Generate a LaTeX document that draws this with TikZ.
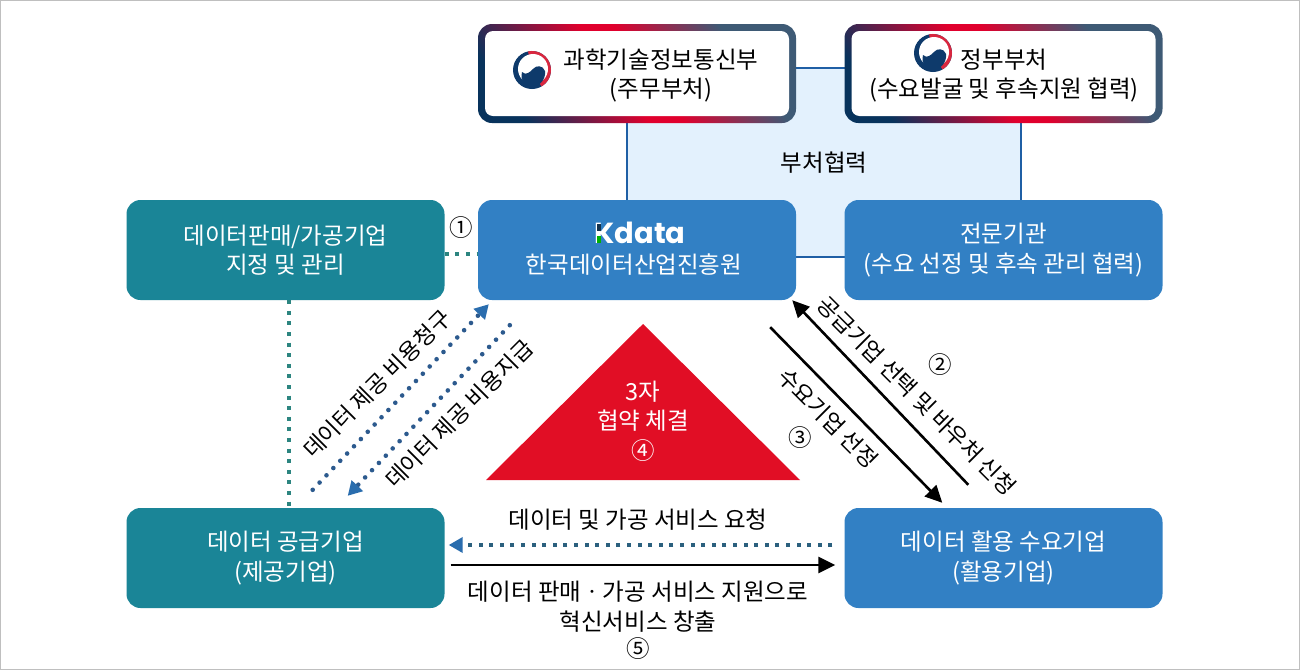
\documentclass[tikz,border=0pt]{standalone}
\usepackage{fontspec}
\setmainfont{Noto Sans CJK KR}
\newfontfamily\logofont{Poppins}
\usetikzlibrary{arrows.meta,calc}
\definecolor{tealbox}{HTML}{1A8597}
\definecolor{bluebox}{HTML}{3280C4}
\definecolor{panelfill}{HTML}{E3F1FD}
\definecolor{panelline}{HTML}{1F5FA5}
\definecolor{brdnavy}{HTML}{08335C}
\definecolor{brdred}{HTML}{E0002D}
\definecolor{brdslate}{HTML}{3E5A75}
\definecolor{tri}{HTML}{E10E25}
\definecolor{dotnavy}{HTML}{2C5A8E}
\definecolor{dotteal}{HTML}{2C8580}
\definecolor{dothoriz}{HTML}{2B607E}
\definecolor{tipblue}{HTML}{2A6DAE}
\definecolor{tgred}{HTML}{D9273F}
\definecolor{tgblue}{HTML}{0E3A6B}
\pgfdeclarehorizontalshading{brdshade}{100bp}{color(0bp)=(brdnavy); color(24bp)=(brdnavy); color(46bp)=(brdred); color(52bp)=(brdred); color(71bp)=(brdslate); color(100bp)=(brdslate)}
\newcommand{\txt}{\fontsize{23.5}{29.5}\selectfont}
\newcommand{\dn}[1]{\raisebox{-2.5pt}{#1}}
\newcommand{\taegeuk}[2]{%
  \begin{scope}[shift={(#1,#2)}]
    \fill[tgblue] (0,0) circle (19);
    \fill[tgred] (0,0) -- (-4,-18.6) arc (-102:60:19) -- cycle;
    \fill[white] (1,-1) circle (15);
    \fill[tgblue] (-10,2) .. controls (-6,6) and (-2,2) .. (1,-1) .. controls (4,-5) and (11,-5) .. (13,1) .. controls (14,10) and (7,17) .. (-1,17) .. controls (-7,17) and (-12,10) .. cycle;
  \end{scope}}
\tikzset{
  x=1pt,y=-1pt,
  box/.style={rounded corners=14pt,minimum width=318pt,minimum height=100pt,inner sep=0pt,text=white,align=center,font=\txt},
  tealnode/.style={box,fill=tealbox},
  bluenode/.style={box,fill=bluebox},
  gradouter/.style={rounded corners=14pt,minimum width=318pt,minimum height=99pt,inner sep=0pt,shading=brdshade,shading angle=36},
  gradinner/.style={rounded corners=8pt,minimum width=304pt,minimum height=85pt,inner sep=0pt,fill=white,align=center,font=\txt},
  lab/.style={font=\txt,align=center,inner sep=0pt,text=black},
  tilted/.style={lab,font=\fontsize{22.6}{28}\selectfont},
  num/.style={lab},
  dotdiag/.style={draw=dotnavy,line width=4.6pt,line cap=round,dash pattern=on 0pt off 10pt},
  dotsq/.style={line width=4pt,dash pattern=on 4pt off 6.6pt},
  solidarrow/.style={draw=black,line width=2.6pt,-{Triangle[length=17pt,width=16pt]}},
  bluetip/.style={-{Triangle[length=14pt,width=15pt,color=tipblue]}},
}
\begin{document}
\begin{tikzpicture}
\useasboundingbox (0,0) rectangle (1300,670);
\fill[white] (0,0) rectangle (1300,670);
\draw[color=black!25,line width=1pt] (0.5,0.5) rectangle (1299.5,669.5);

\node[draw=panelline,line width=1.6pt,fill=panelfill,minimum width=394pt,minimum height=189pt,inner sep=0pt,font=\txt] (panel) at (824,162.5) {부처협력};

\node[gradouter] (mstouter) at (637,73.5) {};
\node[gradinner] (mst) at (637,73.5) {};
\node[lab] (msttext) at (661,75.5) {과학기술정보통신부\\(주무부처)};
\taegeuk{532}{70}

\node[gradouter] (govouter) at (1003.5,73.5) {};
\node[gradinner] (gov) at (1003.5,73.5) {};
\node[lab] (govtext) at (1004,75.5) {정부부처\\(수요발굴 및 후속지원 협력)};
\taegeuk{933}{53}

\node[tealnode] (designate) at (285.5,250) {\dn{데이터판매/가공기업}\\\dn{지정 및 관리}};
\node[bluenode] (kdata) at (637,250) {};
\node[lab,text=white] (kdatatext) at (634,265) {한국데이터산업진흥원};
\node[inner sep=0pt,text=white,font=\logofont\bfseries\fontsize{29}{29}\selectfont] (kdatalogo) at (640,232.5) {Kdata};
\fill[black!60!bluebox] (597,224) rectangle (600.5,231);
\fill[green!70!black] (597,236) rectangle (600.5,243);
\node[bluenode] (expert) at (1003.5,250) {\dn{전문기관}\\\dn{(수요 선정 및 후속 관리 협력)}};
\node[tealnode] (supplier) at (285.5,558) {\dn{데이터 공급기업}\\\dn{(제공기업)}};
\node[bluenode] (demand) at (1003.5,558) {\dn{데이터 활용 수요기업}\\\dn{(활용기업)}};

\draw[draw=dotteal,dotsq] ([shift={(0,4)}]designate.east) -- ([shift={(0,4)}]kdata.west);
\draw[draw=dotteal,dotsq] ([shift={(3,0)}]designate.south) -- ([shift={(3,0)}]supplier.north);

\draw[dotdiag,bluetip] ([shift={(-132,-18)}]supplier.north east) -- ([shift={(11,4)}]kdata.south west);
\draw[dotdiag,bluetip] ([shift={(32,25)}]kdata.south west) -- ([shift={(-97,-12)}]supplier.north east);

\draw[solidarrow] ([shift={(124,-23)}]demand.north west) -- ([shift={(-4,0)}]kdata.south east);
\draw[solidarrow] ([shift={(-26,27)}]kdata.south east) -- ([shift={(98,-5)}]demand.north west);

\draw[draw=dothoriz,dotsq,bluetip] ([shift={(-12,-13)}]demand.west) -- ([shift={(4,-13)}]supplier.east);
\draw[solidarrow] ([shift={(6,7)}]supplier.east) -- ([shift={(-9,7)}]demand.west);

\fill[tri] (643,324) -- (800,480) -- (486,480) -- cycle;
\node[lab,text=white] (three) at (643,392) {3자};
\node[lab,text=white] (sign) at (643,421) {협약 체결};
\node[lab,text=white] (n4) at (643,451) {④};

\node[num] (n1) at (461,228) {①};
\node[num] (n2) at (940,365) {②};
\node[num] (n3) at (800,438) {③};
\node[num] (n5) at (638,649) {⑤};

\node[tilted,rotate=45] (bill) at (377,384) {데이터 제공 비용청구};
\node[tilted,rotate=45] (pay) at (459,414) {데이터 제공 비용지급};
\node[tilted,rotate=-45] (apply) at (917,396) {공급기업 선택 및 바우처 신청};
\node[tilted,rotate=-45] (select) at (828,418) {수요기업 선정};
\node[lab] (request) at (638,520) {데이터 및 가공 서비스 요청};
\node[lab] (sell) at (638,606.5) {데이터 판매ㆍ가공 서비스 지원으로\\혁신서비스 창출};
\end{tikzpicture}
\end{document}
